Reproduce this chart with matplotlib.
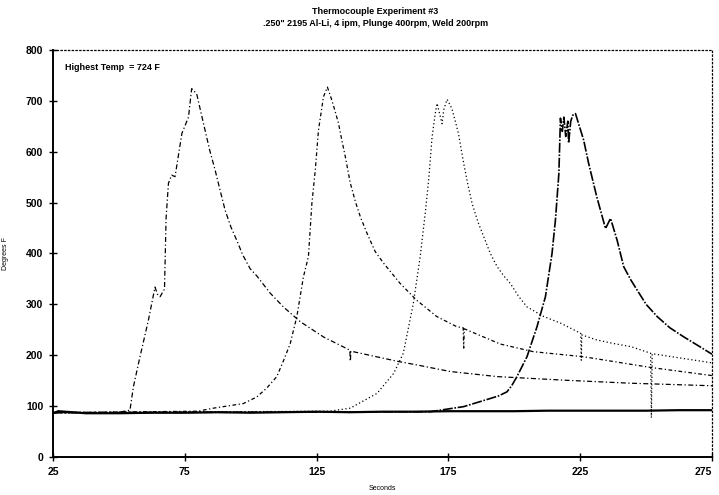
import numpy as np
import matplotlib
matplotlib.use("Agg")
import matplotlib.pyplot as plt

plt.rcParams['font.family'] = ['Liberation Sans', 'DejaVu Sans']
plt.rcParams['font.weight'] = 'bold'

# ambient / baseline thermocouple
t_base = [25, 27, 37.5, 50, 62.5, 75, 87.5, 100, 112.5, 125, 137.5, 150, 162.5, 175,
          187.5, 200, 212.5, 225, 237.5, 250, 262.5, 275]
temp_base = [86, 90, 86, 86, 87, 87, 88, 87, 88, 89, 88, 89, 89, 90,
             90, 90, 91, 91, 91, 91, 92, 92]

# first pass (peak ~77 s)
t_a = [25, 50, 54.2, 55.5, 58, 61.2, 63.7, 64.6, 65.6, 67.3, 67.6, 67.9, 68.8, 70,
       71.3, 73.9, 76.4, 77.6, 79.5, 81, 82.7, 84.5, 86.5, 88.5, 90.3, 92.5, 94.7,
       97, 99.8, 102.3, 107.4, 112.4, 118.8, 127.6, 137.6, 137.8, 138.0, 150.4,
       156.7, 163, 175.7, 193.5, 218.8, 244, 275]
temp_a = [87, 88, 92, 138, 197, 269, 334, 320, 315, 330, 400, 470, 538, 554,
          551, 636, 668, 724, 714, 680, 642, 602, 564, 522, 485, 452, 426,
          397, 370, 356, 322, 295, 266, 236, 210, 188, 208, 194,
          187, 181, 168, 158, 151, 145, 140]

# second pass (peak ~129 s)
t_b = [25, 80, 85.9, 97.2, 102.3, 106, 109.9, 112.5, 115, 117.5, 120, 121.9, 123.2,
       124.5, 125.7, 127.6, 129.1, 130.8, 132, 133.3, 134.6, 135.9, 137.8, 139.7,
       141.6, 144.1, 147.2, 150.4, 156.7, 163, 170.6, 178.2, 180.6, 180.8, 181.0,
       188.3, 194.7, 207.2, 226.3, 251.7, 275]
temp_b = [87, 90, 96, 105, 118, 135, 158, 190, 223, 276, 354, 394, 498,
          564, 642, 708, 727, 701, 680, 656, 622, 590, 538, 502,
          472, 440, 404, 381, 341, 308, 276, 256, 254, 214, 252,
          236, 222, 207, 197, 176, 160]

# third pass (peak ~174 s)
t_c = [25, 130, 137.8, 147.9, 154.2, 157.9, 161.7, 164.3, 166.2, 167.5, 168.8, 170,
       170.7, 172.6, 173.2, 174.5, 176.3, 177.5, 178.8, 180.8, 182.4, 184, 186.2,
       188.4, 190.9, 193.5, 196, 198.5, 201.6, 204.8, 211.2, 217.6, 225.2, 225.4,
       225.6, 231.3, 237.7, 244.2, 251.7, 252.0, 252.3, 275]
temp_c = [87, 90, 96, 125, 164, 204, 302, 394, 479, 544, 629, 675,
          695, 655, 682, 703, 685, 662, 636, 577, 535, 498, 462,
          433, 400, 374, 356, 341, 316, 295, 276, 263, 243, 190,
          240, 230, 223, 217, 204, 77, 203, 185]

# fourth pass (peak ~223 s)
t_d = [25, 168.1, 180.8, 190.9, 194, 197.2, 199, 201, 204.8, 208.6, 211.8, 214.3,
       215.6, 216.9, 217.5, 218.2, 218.8, 219.5, 220.3, 220.6, 221.4, 222.2, 223.2,
       226.3, 228.2, 231.3, 234.6, 236.5, 239, 241.5, 244.2, 246.6, 250, 254.2,
       259, 264.3, 270, 275]
temp_d = [87, 89, 99, 115, 120, 128, 140, 158, 197, 256, 315, 400,
          466, 557, 666, 640, 668, 630, 660, 617, 660, 672, 675,
          623, 577, 511, 449, 469, 426, 374, 348, 328, 300, 276,
          254, 236, 218, 202]

fig = plt.figure(figsize=(7.19, 4.95), dpi=100)
ax = fig.add_axes([0.0737, 0.0768, 0.9166, 0.8222])

ax.plot(t_a, temp_a, color='black', lw=0.9, ls=(0, (4, 2, 1, 2)))
ax.plot(t_b, temp_b, color='black', lw=0.9, ls=(0, (3, 2, 1, 2)))
ax.plot(t_c, temp_c, color='black', lw=0.9, ls=(0, (1, 2)))
ax.plot(t_d, temp_d, color='black', lw=1.2, ls=(0, (6, 1, 1, 1)))
ax.plot(t_base, temp_base, color='black', lw=1.6)

ax.set_xlim(25, 275)
ax.set_ylim(0, 800)
ax.set_xticks(np.arange(25, 276, 50))
ax.set_yticks(np.arange(0, 801, 100))
ax.tick_params(direction='inout', length=6, width=1, labelsize=7.5, pad=4)
xlabels = ax.get_xticklabels()
xlabels[-1].set_horizontalalignment('right')

for s in ['top', 'right']:
    ax.spines[s].set_linestyle((0, (1, 2)))
    ax.spines[s].set_linewidth(0.9)
for s in ['left', 'bottom']:
    ax.spines[s].set_linewidth(1.4)

ax.set_xlabel("Seconds", fontsize=5, labelpad=6)
ax.set_ylabel("Degrees F", fontsize=5, labelpad=12)

ax.text(29.6, 766, "Highest Temp  = 724 F", fontsize=6.5, va='center', ha='left')

fig.text(0.522, 0.986, "Thermocouple Experiment #3", ha='center', va='top', fontsize=6.5)
fig.text(0.522, 0.962, '.250" 2195 Al-Li, 4 ipm, Plunge 400rpm, Weld 200rpm',
         ha='center', va='top', fontsize=6.5)

fig.savefig("out.png", dpi=100)
